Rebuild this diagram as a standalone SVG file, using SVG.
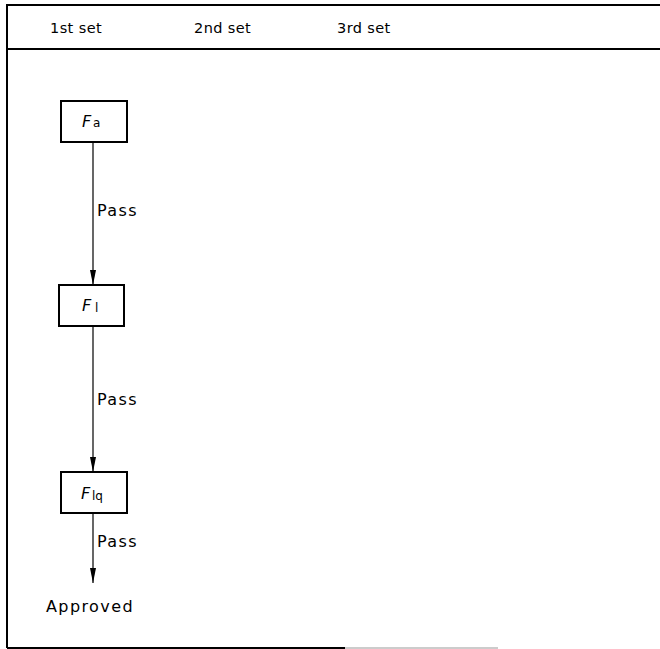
<svg xmlns="http://www.w3.org/2000/svg" width="660" height="649" viewBox="0 0 660 649">
<style>
.frame{stroke:#000;stroke-width:2;fill:none}
.box{stroke:#000;stroke-width:2;fill:#fff}
.conn{stroke:#000;stroke-width:1.2;fill:none}
.h{font-family:"DejaVu Sans","Liberation Sans",sans-serif;font-size:14.5px;letter-spacing:0.4px;fill:#000}
.t{font-family:"DejaVu Sans","Liberation Sans",sans-serif;font-size:16px;letter-spacing:1.4px;fill:#000}
.f{font-family:"DejaVu Sans","Liberation Sans",sans-serif;font-size:16px;font-style:italic;fill:#000}
.s{font-family:"DejaVu Sans","Liberation Sans",sans-serif;font-size:12px;fill:#000}
</style>
<defs>
<marker id="ah" markerWidth="16" markerHeight="6" refX="15" refY="3" orient="auto" markerUnits="userSpaceOnUse" viewBox="0 0 16 6">
<path d="M0,0 L15,3 L0,6 Z" fill="#000"/>
</marker>
</defs>
<g id="frame">
<path class="frame" d="M660,5 H7 V648"/>
<line class="frame" x1="7" y1="49" x2="660" y2="49"/>
<line x1="7" y1="648" x2="345" y2="648" stroke="#000" stroke-width="2"/>
<line x1="345" y1="648" x2="498" y2="648" stroke="#bbb" stroke-width="1.5"/>
<text class="h" x="50" y="33">1st set</text>
<text class="h" x="194" y="33">2nd set</text>
<text class="h" x="337" y="33">3rd set</text>
</g>
<g id="connectors">
<line class="conn" x1="93" y1="142" x2="93" y2="285" marker-end="url(#ah)"/>
<line class="conn" x1="93" y1="326" x2="93" y2="472" marker-end="url(#ah)"/>
<line class="conn" x1="93" y1="513" x2="93" y2="583" marker-end="url(#ah)"/>
<text class="t" x="97" y="216">Pass</text>
<text class="t" x="97" y="405">Pass</text>
<text class="t" x="97" y="547">Pass</text>
</g>
<g id="node-fa">
<rect class="box" x="61" y="101" width="66" height="41"/>
<text class="f" x="82" y="127">F</text><text class="s" x="93" y="127">a</text>
</g>
<g id="node-fl">
<rect class="box" x="59" y="285" width="65" height="41"/>
<text class="f" x="82" y="311">F</text><text class="s" x="95" y="312">l</text>
</g>
<g id="node-flq">
<rect class="box" x="61" y="472" width="66" height="41"/>
<text class="f" x="81" y="499">F</text><text class="s" x="92" y="500">lq</text>
</g>
<g id="node-approved">
<text class="t" x="46" y="612">Approved</text>
</g>
</svg>
